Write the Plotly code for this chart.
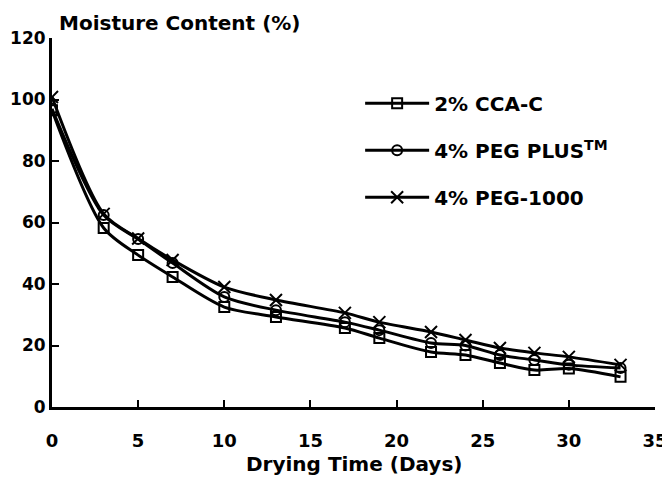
import plotly.graph_objects as go

days = [0, 3, 5, 7, 10, 13, 17, 19, 22, 24, 26, 28, 30, 33]
cca_c = [96.5, 58.2, 49.4, 42.3, 32.5, 29.3, 25.7, 22.4, 17.9, 16.9, 14.3, 12.0, 12.5, 9.8]
peg_plus = [97.0, 62.4, 54.6, 46.8, 35.8, 31.5, 27.6, 25.0, 20.8, 20.0, 16.9, 15.3, 13.7, 12.7]
peg_1000 = [100.8, 62.8, 54.8, 47.8, 39.0, 34.8, 30.6, 27.6, 24.4, 21.8, 19.2, 17.6, 16.3, 13.7]

series = [
    ("2% CCA-C", cca_c, "square-open"),
    ("4% PEG PLUS<sup>TM</sup>", peg_plus, "circle-open"),
    ("4% PEG-1000", peg_1000, "x-thin-open"),
]

FONT = "DejaVu Sans, Arial, sans-serif"

fig = go.Figure()
for i, (name, vals, sym) in enumerate(series):
    fig.add_trace(go.Scatter(
        x=days, y=vals, name=name, mode="lines+markers",
        line=dict(color="black", width=3, shape="spline", smoothing=0.8),
        marker=dict(symbol=sym, size=10 if sym != "x-thin-open" else 12,
                    color="black", line=dict(color="black", width=2)),
        legendgroup=f"g{i}",
    ))

fig.update_layout(
    width=662, height=475,
    margin=dict(l=44, r=15, t=30, b=76),
    paper_bgcolor="white", plot_bgcolor="white",
    font=dict(family=FONT, size=20, color="black", weight="bold"),
    showlegend=True,
    legend=dict(
        x=0.511, y=0.876, xanchor="left", yanchor="top",
        bgcolor="rgba(0,0,0,0)", itemwidth=64,
        tracegroupgap=18, traceorder="grouped",
        font=dict(family=FONT, size=20, color="black", weight="bold"),
    ),
    xaxis=dict(
        range=[0, 35], tickvals=[0, 5, 10, 15, 20, 25, 30, 35],
        showgrid=False, zeroline=False, automargin=False,
        showline=True, linecolor="black", linewidth=3,
        ticks="inside", ticklen=7, tickwidth=2, tickcolor="black",
        ticklabelstandoff=15, ticklabeloverflow="allow",
        tickfont=dict(family=FONT, size=18, color="black", weight="bold"),
    ),
    yaxis=dict(
        range=[0, 120], tickvals=[0, 20, 40, 60, 80, 100, 120],
        showgrid=False, zeroline=False, automargin=False,
        showline=True, linecolor="black", linewidth=3,
        ticks="inside", ticklen=7, tickwidth=2, tickcolor="black",
        ticklabelstandoff=0, ticklabeloverflow="allow",
        tickfont=dict(family=FONT, size=17, color="black", weight="bold"),
    ),
    annotations=[
        dict(text="Moisture Content (%)", xref="paper", yref="paper",
             x=0, y=1, xanchor="left", yanchor="bottom", xshift=5, yshift=1,
             showarrow=False,
             font=dict(family=FONT, size=20, color="black", weight="bold")),
        dict(text="Drying Time (Days)", xref="paper", yref="paper",
             x=0.5, y=0, xanchor="center", yanchor="middle", yshift=-57,
             showarrow=False,
             font=dict(family=FONT, size=20, color="black", weight="bold")),
    ],
)

fig.write_html("out.html")
